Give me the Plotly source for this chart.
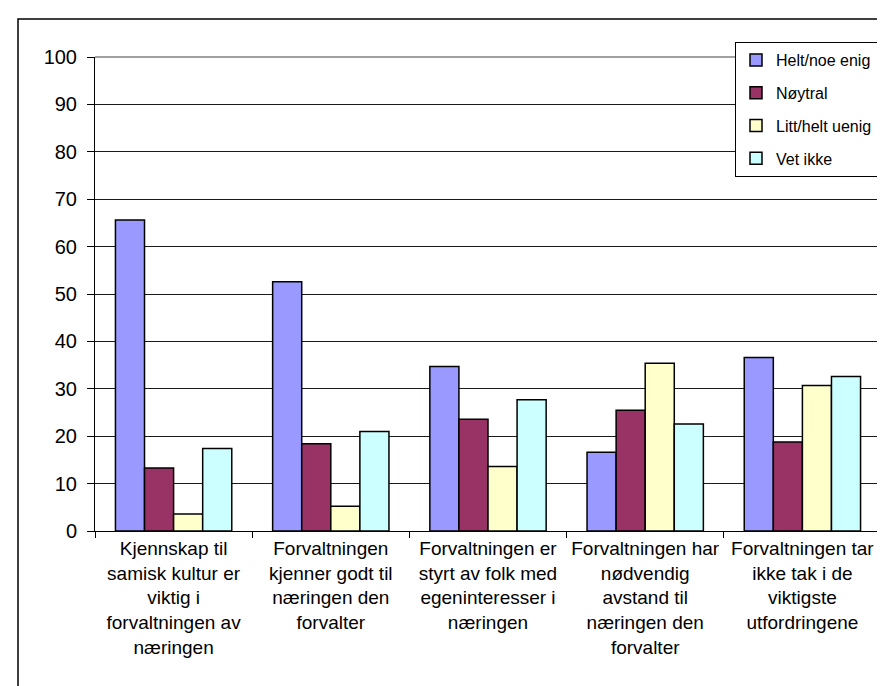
import plotly.graph_objects as go

categories = ["K1", "K2", "K3", "K4", "K5"]
tick_labels = [
    "Kjennskap til<br>samisk kultur er<br>viktig i<br>forvaltningen av<br>næringen",
    "Forvaltningen<br>kjenner godt til<br>næringen den<br>forvalter",
    "Forvaltningen er<br>styrt av folk med<br>egeninteresser i<br>næringen",
    "Forvaltningen har<br>nødvendig<br>avstand til<br>næringen den<br>forvalter",
    "Forvaltningen tar<br>ikke tak i de<br>viktigste<br>utfordringene",
]
series_names = ["Helt/noe enig", "Nøytral", "Litt/helt uenig", "Vet ikke"]
helt_noe_enig = [65.6, 52.6, 34.7, 16.6, 36.6]
noytral = [13.3, 18.4, 23.6, 25.5, 18.8]
litt_helt_uenig = [3.6, 5.2, 13.6, 35.4, 30.7]
vet_ikke = [17.4, 21.0, 27.7, 22.6, 32.6]
y_ticks = [0, 10, 20, 30, 40, 50, 60, 70, 80, 90, 100]

colors = ["#9999FF", "#993366", "#FFFFCC", "#CCFFFF"]
values = [helt_noe_enig, noytral, litt_helt_uenig, vet_ikke]

fig = go.Figure()
for i, (name, vals) in enumerate(zip(series_names, values)):
    fig.add_trace(go.Bar(
        x=categories, y=vals, name=name, legendgroup=name,
        marker=dict(color=colors[i], line=dict(color="#000000", width=1.5)),
    ))

W, H = 885, 686
ml, mr, mt, mb = 87, 12, 49, 163
pw, ph = W - ml - mr, H - mt - mb

fig.update_layout(
    width=W, height=H,
    margin=dict(l=ml, r=mr, t=mt, b=mb, autoexpand=False),
    paper_bgcolor="white", plot_bgcolor="white",
    font=dict(family="Liberation Sans, Arial, sans-serif", color="#000000", size=18),
    barmode="group", bargap=0.26, bargroupgap=0,
    showlegend=True,
    legend=dict(
        x=(727 - ml) / pw, y=(H - mb - 34) / ph, xanchor="left", yanchor="top",
        bgcolor="white", bordercolor="#000000", borderwidth=1,
        font=dict(size=16), tracegroupgap=9,
    ),
    xaxis=dict(
        type="category", tickmode="array", tickvals=categories, ticktext=tick_labels,
        tickson="boundaries", ticks="outside", ticklen=6, tickcolor="#000000",
        showline=True, linecolor="#000000", linewidth=1, showgrid=False,
        tickfont=dict(size=19), tickangle=0, automargin=False,
    ),
    yaxis=dict(
        range=[0, 100], tickmode="array", tickvals=y_ticks,
        ticks="outside", ticklen=7, tickcolor="#000000",
        showline=True, linecolor="#000000", linewidth=1,
        showgrid=True, gridcolor="#1a1a1a", gridwidth=1,
        tickfont=dict(size=20), ticklabelstandoff=6, zeroline=False,
        automargin=False,
    ),
    shapes=[
        dict(type="line", xref="paper", yref="paper", x0=1, x1=1, y0=0, y1=1,
             line=dict(color="#808080", width=1.5), layer="above"),
        dict(type="line", xref="paper", yref="paper", x0=0, x1=1, y0=1, y1=1,
             line=dict(color="#808080", width=1.5), layer="above"),
        dict(type="rect", xref="paper", yref="paper",
             x0=(10 - ml) / pw, x1=(884 - ml) / pw,
             y0=(H - mb - 686) / ph, y1=(H - mb - 11) / ph,
             line=dict(color="#000000", width=1.5), layer="above"),
    ],
)

fig.write_html("out.html")
